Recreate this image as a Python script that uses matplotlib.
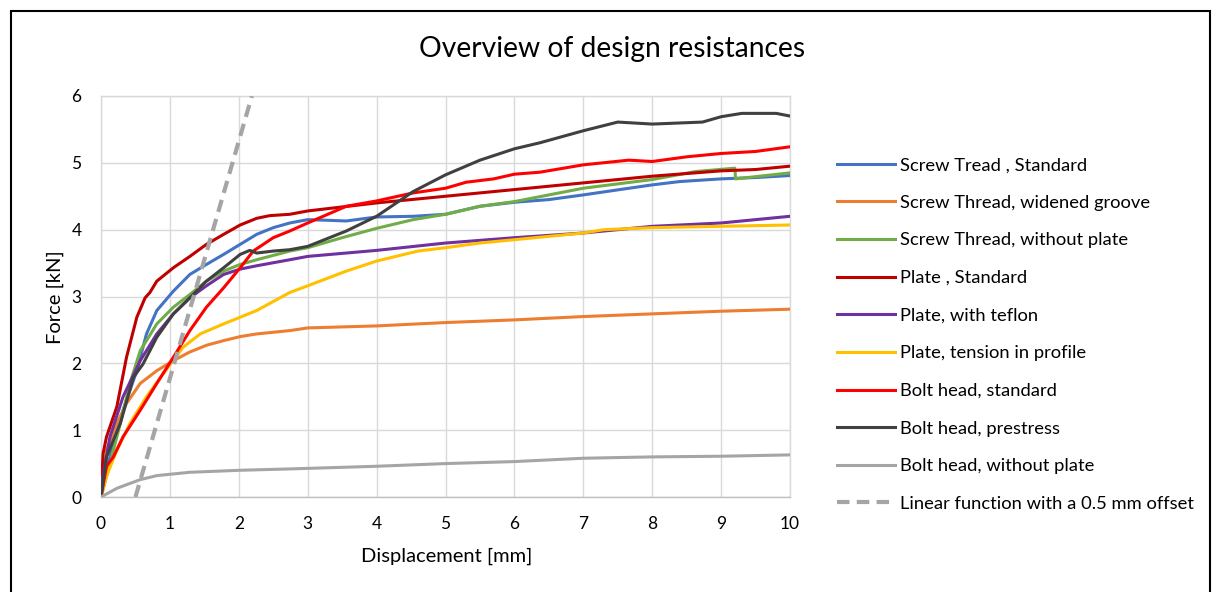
import matplotlib
matplotlib.use("Agg")
import matplotlib.pyplot as plt
from matplotlib.patches import Rectangle

plt.rcParams['font.family'] = ['Lato', 'DejaVu Sans']

# ---------------- data ----------------
title = "Overview of design resistances"
xlabel = "Displacement [mm]"
ylabel = "Force [kN]"
x_ticks = [0, 1, 2, 3, 4, 5, 6, 7, 8, 9, 10]
y_ticks = [0, 1, 2, 3, 4, 5, 6]

labels = [
    "Screw Tread , Standard",
    "Screw Thread, widened groove",
    "Screw Thread, without plate",
    "Plate , Standard",
    "Plate, with teflon",
    "Plate, tension in profile",
    "Bolt head, standard",
    "Bolt head, prestress",
    "Bolt head, without plate",
    "Linear function with a 0.5 mm offset",
]
colors = ["#4472C4", "#ED7D31", "#70AD47", "#C00000", "#7030A0",
          "#FFC000", "#FF0000", "#404040", "#A5A5A5", "#A5A5A5"]

screw_std_x = [0, 0.05, 0.13, 0.32, 0.52, 0.66, 0.81, 1.05, 1.29, 1.53, 1.78, 2.02, 2.26, 2.5, 2.74,
               3.0, 3.3, 3.56, 4.0, 4.53, 5.0, 5.5, 6.0, 6.5, 7.0, 7.53, 8.0, 8.4, 9.0, 9.5, 10.0]
screw_std_y = [0, 0.3, 0.60, 1.30, 1.89, 2.44, 2.79, 3.08, 3.33, 3.48, 3.63, 3.78, 3.93, 4.03, 4.10,
               4.15, 4.14, 4.13, 4.19, 4.20, 4.23, 4.35, 4.41, 4.45, 4.52, 4.60, 4.67, 4.72, 4.76, 4.78, 4.81]

screw_groove_x = [0, 0.08, 0.23, 0.37, 0.57, 0.81, 1.05, 1.29, 1.53, 1.78, 2.02, 2.26, 2.74,
                  3.0, 4.0, 5.0, 6.0, 7.0, 8.0, 9.0, 10.0]
screw_groove_y = [0, 0.70, 1.10, 1.40, 1.70, 1.89, 2.04, 2.17, 2.27, 2.34, 2.40, 2.44, 2.49,
                  2.53, 2.56, 2.61, 2.65, 2.70, 2.74, 2.78, 2.81]

screw_noplate_x = [0, 0.13, 0.28, 0.42, 0.57, 0.81, 1.05, 1.29, 1.53, 1.78, 2.02, 2.26, 2.74,
                   3.0, 3.5, 4.0, 4.53, 5.0, 5.5, 6.0, 6.5, 7.0, 8.0, 8.63, 9.2, 9.21, 10.0]
screw_noplate_y = [0, 0.5, 1.1, 1.70, 2.19, 2.59, 2.84, 3.03, 3.23, 3.38, 3.48, 3.55, 3.68,
                   3.73, 3.88, 4.02, 4.15, 4.23, 4.35, 4.42, 4.52, 4.62, 4.75, 4.87, 4.92, 4.76, 4.85]

plate_std_x = [0, 0.03, 0.08, 0.23, 0.37, 0.52, 0.64, 0.71, 0.81, 1.05, 1.29, 1.53, 1.78, 2.02, 2.26,
               2.45, 2.74, 3.0, 4.0, 5.0, 6.0, 7.0, 8.0, 9.0, 9.5, 10.0]
plate_std_y = [0, 0.65, 0.90, 1.35, 2.09, 2.69, 2.98, 3.06, 3.23, 3.43, 3.60, 3.78, 3.93, 4.07, 4.17,
               4.21, 4.23, 4.28, 4.40, 4.50, 4.60, 4.70, 4.80, 4.88, 4.90, 4.95]

plate_teflon_x = [0, 0.01, 0.13, 0.32, 0.57, 0.81, 1.05, 1.29, 1.53, 1.78, 2.02, 2.26, 2.74,
                  3.0, 4.0, 5.0, 6.0, 7.0, 8.0, 9.0, 10.0]
plate_teflon_y = [0, 0.2, 0.9, 1.5, 2.04, 2.44, 2.74, 2.98, 3.16, 3.33, 3.41, 3.46, 3.55,
                  3.60, 3.69, 3.80, 3.88, 3.95, 4.05, 4.10, 4.20]

plate_tension_x = [0, 0.08, 0.23, 0.42, 0.66, 0.90, 1.19, 1.44, 1.78, 2.26, 2.74, 3.0, 3.56,
                   4.0, 4.6, 5.0, 5.5, 6.0, 7.0, 7.3, 8.0, 9.0, 10.0]
plate_tension_y = [0, 0.31, 0.70, 1.10, 1.50, 1.84, 2.24, 2.44, 2.59, 2.79, 3.06, 3.16, 3.38,
                   3.53, 3.68, 3.73, 3.80, 3.85, 3.95, 4.00, 4.03, 4.05, 4.07]

bolt_std_x = [0, 0.08, 0.18, 0.32, 0.57, 0.81, 1.05, 1.29, 1.53, 1.78, 2.02, 2.21, 2.5, 2.74,
              3.0, 3.56, 4.0, 4.53, 5.0, 5.3, 5.7, 6.0, 6.37, 7.0, 7.66, 8.0, 8.5, 9.0, 9.5, 10.0]
bolt_std_y = [0, 0.46, 0.60, 0.90, 1.30, 1.70, 2.09, 2.49, 2.84, 3.13, 3.43, 3.68, 3.88, 3.98,
              4.10, 4.35, 4.43, 4.55, 4.62, 4.71, 4.76, 4.83, 4.86, 4.97, 5.04, 5.02, 5.09, 5.14, 5.17, 5.24]

bolt_pre_x = [0, 0.08, 0.28, 0.47, 0.61, 0.81, 1.05, 1.29, 1.53, 1.78, 2.02, 2.16, 2.26, 2.5, 2.74,
              3.0, 3.56, 4.0, 4.53, 5.0, 5.5, 6.0, 6.37, 7.0, 7.5, 8.0, 8.73, 9.0, 9.3, 9.8, 10.0]
bolt_pre_y = [0, 0.6, 1.10, 1.79, 1.99, 2.39, 2.74, 2.98, 3.23, 3.43, 3.63, 3.69, 3.65, 3.68, 3.70,
              3.75, 3.98, 4.20, 4.57, 4.82, 5.04, 5.21, 5.30, 5.48, 5.61, 5.58, 5.61, 5.69, 5.74, 5.74, 5.70]

bolt_noplate_x = [0, 0.23, 0.57, 0.81, 1.29, 2.02, 2.74, 4.0, 5.0, 6.0, 7.0, 8.0, 9.0, 10.0]
bolt_noplate_y = [0, 0.13, 0.26, 0.32, 0.37, 0.40, 0.42, 0.46, 0.50, 0.53, 0.58, 0.60, 0.61, 0.63]

linear_x = [0.5, 2.19]
linear_y = [0, 6]

series_x = [screw_std_x, screw_groove_x, screw_noplate_x, plate_std_x, plate_teflon_x,
            plate_tension_x, bolt_std_x, bolt_pre_x, bolt_noplate_x, linear_x]
series_y = [screw_std_y, screw_groove_y, screw_noplate_y, plate_std_y, plate_teflon_y,
            plate_tension_y, bolt_std_y, bolt_pre_y, bolt_noplate_y, linear_y]

# ---------------- figure ----------------
W, H = 1214, 592
fig = plt.figure(figsize=(W / 100, H / 100), dpi=100)
ax = fig.add_axes([101 / W, 1 - 497 / H, (790 - 101) / W, (497 - 96) / H])

handles = []
for i, (xs, ys) in enumerate(zip(series_x, series_y)):
    if i == len(series_x) - 1:
        h, = ax.plot(xs, ys, color=colors[i], lw=3.0, ls=(0, (3.0, 1.75)), label=labels[i],
                     dash_capstyle='butt', zorder=3)
    else:
        h, = ax.plot(xs, ys, color=colors[i], lw=2.2, label=labels[i], zorder=3,
                     solid_joinstyle='round')
    handles.append(h)

ax.set_xlim(0, 10)
ax.set_ylim(0, 6)
ax.set_xticks(x_ticks)
ax.set_yticks(y_ticks)
ax.grid(True, color="#D9D9D9", lw=1.0)
ax.set_axisbelow(True)
for s in ['top', 'right', 'left']:
    ax.spines[s].set_color("#D9D9D9")
    ax.spines[s].set_linewidth(1.0)
ax.spines['bottom'].set_color("#BFBFBF")
ax.spines['bottom'].set_linewidth(1.0)
ax.tick_params(axis='both', length=0, labelsize=12.5, labelcolor="black")
ax.tick_params(axis='x', pad=14)
ax.tick_params(axis='y', pad=14)

fig.text(447 / W, 1 - 556 / H, xlabel, ha='center', va='center', fontsize=14.5, color="black")
fig.text(55 / W, 1 - 297 / H, ylabel, ha='center', va='center', fontsize=14.5, color="black",
         rotation=90)

fig.text(612 / W, 1 - 49 / H, title, ha='center', va='center', fontsize=20.3, color="black")

leg = fig.legend(handles=handles, loc='upper left', bbox_to_anchor=(828 / W, 1 - 148 / H),
                 frameon=False, fontsize=13.2, handlelength=3.15, handletextpad=0.3,
                 labelspacing=1.18, borderpad=0)
for t in leg.get_texts():
    t.set_color("black")

# outer border (cut at bottom)
fig.patches.append(Rectangle((10.5 / W, -0.1), (1209.5 - 10.5) / W, 1.1 - 11 / H,
                             transform=fig.transFigure, fill=False, edgecolor='black', lw=1.5))

fig.savefig("out.png", dpi=100)
